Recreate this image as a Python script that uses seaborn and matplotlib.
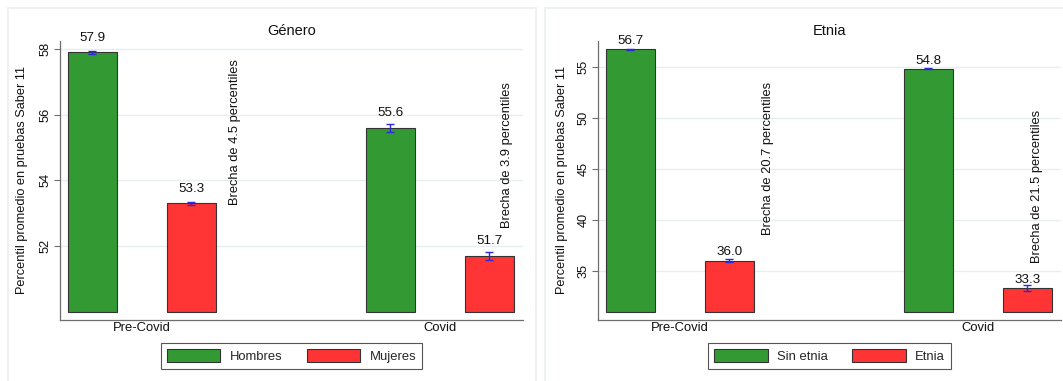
import matplotlib
matplotlib.use("Agg")
import matplotlib.pyplot as plt
import pandas as pd
import seaborn as sns
from matplotlib.patches import Rectangle, Patch

periodos = ["Pre-Covid", "Covid"]

# Panel de género
hombres = [57.9, 55.6]
hombres_ee = [0.05, 0.13]
mujeres = [53.3, 51.7]
mujeres_ee = [0.04, 0.12]
brechas_genero = ["Brecha de 4.5 percentiles", "Brecha de 3.9 percentiles"]
ticks_genero = [52, 54, 56, 58]

# Panel de etnia
sin_etnia = [56.7, 54.8]
sin_etnia_ee = [0.05, 0.05]
etnia = [36.0, 33.3]
etnia_ee = [0.17, 0.33]
brechas_etnia = ["Brecha de 20.7 percentiles", "Brecha de 21.5 percentiles"]
ticks_etnia = [35, 40, 45, 50, 55]

VERDE = "#339a33"
ROJO = "#ff3434"
AZUL = "#2a2ad8"
EJE = "#6e6e6e"
BORDE = "#333333"
TEXTO = "#111111"

sns.set_theme(style="ticks")
plt.rcParams["font.family"] = ["Liberation Sans", "DejaVu Sans"]

W, H = 1063, 381
fig = plt.figure(figsize=(W / 100, H / 100), dpi=100)


def marco(x0, y0, x1, y1):
    fig.add_artist(Rectangle((x0 / W, 1 - y1 / H), (x1 - x0) / W, (y1 - y0) / H,
                             transform=fig.transFigure, fill=False,
                             ec="#eaefef", lw=1.2))


def panel(rect, titulo, grupos, valores, errores, base, ylim, ticks,
          brechas, pos_brechas, desplaz, xlab):
    ax = fig.add_axes(rect)
    df = pd.DataFrame({
        "periodo": periodos * 2,
        "grupo": [grupos[0]] * 2 + [grupos[1]] * 2,
        "valor": valores[0] + valores[1],
        "ee": errores[0] + errores[1],
    })
    df["altura"] = df["valor"] - base
    colores = [VERDE, ROJO]
    sns.barplot(data=df, x="periodo", y="altura", hue="grupo",
                order=periodos, hue_order=grupos, palette=colores,
                saturation=1, width=0.664, gap=0.5, bottom=base,
                errorbar=None, edgecolor=BORDE, linewidth=0.8,
                legend=False, ax=ax)

    for cont, g in zip(ax.containers, grupos):
        sub = df[df["grupo"] == g]
        xs = [b.get_x() + b.get_width() / 2 for b in cont]
        ax.errorbar(xs, sub["valor"], yerr=sub["ee"], fmt="none",
                    ecolor=AZUL, elinewidth=1, capsize=3, capthick=1,
                    zorder=3)
        for x, v in zip(xs, sub["valor"]):
            ax.annotate(f"{v:.1f}", (x, v), xytext=(0, desplaz),
                        textcoords="offset points", ha="center",
                        va="center", fontsize=9.6, color=TEXTO)

    for txt, (bx, by) in zip(brechas, pos_brechas):
        ax.text(bx, by, txt, rotation=90, ha="center", va="bottom",
                fontsize=9.3, color=TEXTO)

    ax.set_xlim(-0.275, 1.279)
    ax.set_ylim(*ylim)
    ax.set_yticks(ticks)
    ax.set_yticklabels([str(t) for t in ticks])
    ax.yaxis.grid(True, color="#e6eef0", lw=1)
    ax.set_axisbelow(True)

    sns.despine(ax=ax)
    for s in ("left", "bottom"):
        ax.spines[s].set_color(EJE)
        ax.spines[s].set_linewidth(0.9)

    ax.tick_params(axis="y", labelrotation=90, length=4, width=0.8,
                   color=EJE, pad=2, labelsize=9.2, labelcolor=TEXTO)
    for lab in ax.get_yticklabels():
        lab.set_va("center")
    ax.tick_params(axis="x", length=0, pad=1.5, labelsize=9.4,
                   labelcolor=TEXTO)

    ax.set_xlabel("")
    ax.set_ylabel("Percentil promedio en pruebas Saber 11", fontsize=9.2,
                  va="center", color=TEXTO)
    ax.yaxis.set_label_coords(xlab, 0.5)
    ax.set_title(titulo, fontsize=10.5, pad=4, color=TEXTO)

    handles = [Patch(facecolor=c, edgecolor=BORDE, linewidth=0.8)
               for c in colores]
    leg = ax.legend(handles, grupos, loc="center",
                    bbox_to_anchor=(0.5, -0.129), ncol=2, frameon=True,
                    fancybox=False, edgecolor="#555555", framealpha=1,
                    fontsize=9.4, handlelength=4.1, handleheight=1.1,
                    handletextpad=0.7, columnspacing=1.9, borderpad=0.45)
    leg.get_frame().set_linewidth(0.8)
    return ax


marco(8, 8, 536, 384)
marco(545, 8, 1068, 384)

ax_bottom = (H - 320) / H
ax_height = 279 / H

panel([60 / W, ax_bottom, 463 / W, ax_height], "Género",
      ["Hombres", "Mujeres"], [hombres, mujeres], [hombres_ee, mujeres_ee],
      50, (49.746, 58.244), ticks_genero, brechas_genero,
      [(0.312, 53.25), (1.2255, 52.55)], 10.6, -0.0827)

panel([598 / W, ax_bottom, 463 / W, ax_height], "Etnia",
      ["Sin etnia", "Etnia"], [sin_etnia, etnia], [sin_etnia_ee, etnia_ee],
      31, (30.17, 57.52), ticks_etnia, brechas_etnia,
      [(0.294, 38.5), (1.198, 35.75)], 5.9, -0.0784)

fig.savefig("out.png", dpi=100)
